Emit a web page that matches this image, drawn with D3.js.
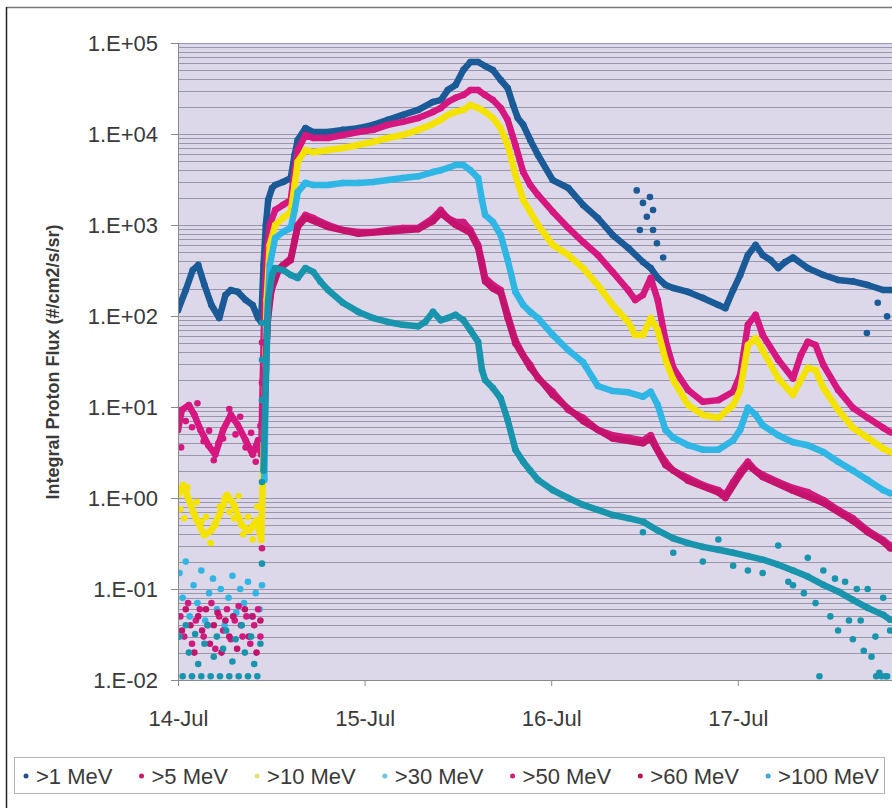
<!DOCTYPE html>
<html>
<head>
<meta charset="utf-8">
<script src="https://cdn.jsdelivr.net/npm/d3@7"></script>
<style>
  body { margin: 0; background: #fff; }
  svg { display: block; font-family: "Liberation Sans", Arial, Helvetica, sans-serif; }
</style>
</head>
<body>
<div id="chart"></div>
<script>
// Integral proton flux, July 2000. Times are hours after 14-Jul 00:00 UT.
const seriesNames = [">1 MeV", ">5 MeV", ">10 MeV", ">30 MeV", ">50 MeV", ">60 MeV", ">100 MeV"];
const seriesColors = ["#1a5a96", "#d6177f", "#f4e200", "#2fb6e4", "#d01a7e", "#c4136c", "#1994ad"];
const legendColors = ["#1f4f86", "#d0186e", "#e8e27a", "#6cc4e2", "#d41c7c", "#c0104c", "#3ca6d2"];
const dayTicks = ["2000-07-14", "2000-07-15", "2000-07-16", "2000-07-17"];
const yTicks = [1e-2, 1e-1, 1e0, 1e1, 1e2, 1e3, 1e4, 1e5];

const mev1 = [[0,116],[1.0,193],[1.9,320],[2.6,363],[3.4,219],[4.3,132],[5.3,95],[6.1,170],[6.8,193],[7.7,184],
  [8.7,150],[9.6,132],[10.3,95],[10.7,86],[11.0,363],[11.3,1000],[11.6,1880],[12.1,2550],[12.5,2750],[13.5,2970],
  [14.5,3280],[15.0,5880],[15.4,8600],[16.4,11600],[17.4,10500],[19.3,10500],[21.2,11100],[23.2,11600],[25.1,12600],
  [27.0,14300],[28.9,16200],[30.9,18400],[32.8,22500],[33.8,23600],[34.7,30400],[35.7,34500],[36.7,50500],[37.6,61800],
  [38.6,61800],[39.5,55800],[40.5,50500],[41.5,39200],[42.4,32000],[43.1,20800],[43.7,15000],[44.4,12600],[45.3,8600],
  [46.3,5880],[48.2,3120],[50.2,2550],[52.1,1660],[54.0,1190],[55.9,777],[57.9,560],[59.8,392],[60.8,336],[61.7,262],
  [62.7,219],[63.7,203],[65.6,184],[67.5,158],[69.5,132],[70.4,122],[71.4,193],[72.3,282],[73.3,468],[74.3,603],
  [75.2,468],[76.2,412],[77.2,336],[78.1,392],[79.1,440],[81.0,336],[83.0,282],[84.9,249],[86.8,240],[88.7,219],
  [90.7,193],[91.6,193]];
const mev1Dots = [[59.0,2400],[59.8,1750],[60.7,2030],[61.1,1460],[60.3,1230],[59.4,880],[61.1,880],[61.6,630],
  [62.4,440],[88.6,65],[91.2,99],[90.0,140]];

const mev5 = [[0,5.6],[0.5,9.3],[1.4,10.5],[2.1,8.2],[2.9,5.6],[3.9,3.8],[4.8,3.0],[5.8,5.6],[6.8,8.2],[7.7,6.3],
  [8.7,4.3],[9.6,3.0],[10.3,4.3],[10.7,3.0],[10.9,19.8],[11.1,116],[11.4,468],[11.8,1000],[12.5,1460],[13.5,1660],
  [14.5,1880],[15.0,4000],[15.4,6670],[16.4,9750],[17.4,9040],[19.3,9040],[21.2,9750],[23.2,10500],[25.1,11100],
  [27.0,12600],[28.9,13600],[30.9,15000],[32.8,17500],[33.8,19300],[34.7,22500],[35.7,25000],[36.7,26800],[37.6,30400],
  [38.6,30400],[39.5,26800],[40.5,23600],[41.5,19300],[42.4,14300],[43.4,7570],[44.4,3820],[45.3,2750],[46.3,2140],
  [48.2,1400],[50.2,927],[52.1,650],[54.0,468],[55.9,305],[57.9,193],[58.8,150],[59.8,170],[60.8,262],[61.7,150],
  [62.7,54],[63.7,27],[65.6,15.4],[67.5,11.4],[69.5,11.9],[71.4,14.7],[72.3,22.5],[73.3,80],[74.3,103],[75.2,62],
  [77.2,33],[79.1,20.6],[80.1,37],[81.0,52],[82.0,48],[83.0,29],[84.9,15.4],[86.8,9.8],[88.7,7.6],[90.7,5.9],[91.6,5.3]];
const mev5Dots = [[0.4,3.6],[1.0,7],[1.8,6],[2.5,11],[3.3,4.2],[4.0,5.5],[4.6,2.6],[5.2,4],[5.8,4.5],[6.6,9.5],
  [7.4,5],[8.0,7.8],[8.7,3.6],[9.4,5.2],[10.0,2.5],[10.6,6.2]];

const mev10 = [[0,1.08],[0.7,1.39],[1.4,0.95],[2.4,0.57],[3.4,0.39],[4.3,0.44],[5.3,0.65],[6.3,1.08],[7.2,0.84],
  [8.2,0.50],[9.2,0.44],[10.1,0.57],[10.7,0.345],[11.1,7.2],[11.4,150],[11.8,603],[12.5,1000],[13.5,1190],[14.5,1400],
  [15.0,2750],[15.4,4950],[16.4,6670],[17.4,6300],[19.3,6670],[21.2,7020],[23.2,7570],[25.1,8200],[27.0,9040],
  [28.9,9750],[30.9,11100],[32.8,12900],[33.8,14300],[34.7,16200],[35.7,17500],[36.7,18400],[37.6,20800],[38.6,19300],
  [39.5,17500],[40.5,15000],[41.5,11600],[42.4,7570],[43.4,3540],[44.4,1880],[45.3,1400],[46.3,1000],[48.2,603],
  [50.2,468],[52.1,336],[54.0,219],[55.9,132],[57.9,86],[58.8,62],[59.8,62],[60.8,95],[61.7,70],[62.7,33],[63.7,19.8],
  [65.6,10.5],[67.5,8.2],[69.5,7.6],[71.4,10.5],[72.3,15.4],[73.3,48],[74.3,57],[75.2,42],[77.2,20.6],[79.1,13.6],
  [80.1,19.8],[81.0,27],[82.0,25.5],[83.0,16.2],[84.9,9.3],[86.8,5.9],[88.7,4.6],[90.7,3.5],[91.6,3.2]];
const mev10Dots = [[0.3,0.75],[0.8,0.6],[1.2,1.3],[1.9,0.7],[2.4,0.9],[3.0,0.55],[3.6,0.62],[4.2,0.32],[4.8,0.5],
  [5.4,0.8],[6.0,1.0],[6.6,0.7],[7.2,0.6],[7.8,1.05],[8.4,0.4],[9.0,0.62],[9.6,0.35],[10.2,0.8],[10.7,0.6]];

const mev30 = [[11.1,1.58],[11.4,70],[11.8,363],[12.5,720],[13.5,838],[14.5,927],[15.0,1460],[15.4,2300],[16.4,2900],
  [17.4,2750],[19.3,2750],[21.2,2900],[23.2,2900],[25.1,2970],[27.0,3120],[28.9,3280],[30.9,3430],[32.8,3820],
  [33.8,4000],[34.7,4230],[35.7,4560],[36.7,4560],[37.6,4000],[38.6,3280],[39.1,1880],[39.5,1290],[40.5,1080],
  [41.5,777],[42.4,412],[43.4,184],[44.4,132],[45.3,111],[46.3,95],[48.2,62],[50.2,42],[52.1,31],[54.0,17],[55.9,15],
  [57.9,14.5],[59.8,13],[60.8,14.7],[61.7,10.5],[62.7,5.6],[63.7,4.6],[65.6,3.8],[67.5,3.4],[69.5,3.4],[71.4,4.3],
  [72.3,5.6],[73.3,9.8],[74.3,8.2],[75.2,6.3],[77.2,4.9],[79.1,4.1],[81.0,3.8],[83.0,3.2],[84.9,2.5],[86.8,2.0],
  [88.7,1.58],[90.7,1.22],[91.6,1.13]];
const mev30Dots = [[0.2,0.15],[0.6,0.08],[1.0,0.2],[1.5,0.05],[2.0,0.11],[2.5,0.07],[3.0,0.16],[3.5,0.045],[4.0,0.09],
  [4.5,0.13],[5.0,0.06],[5.5,0.1],[6.0,0.04],[6.5,0.08],[7.0,0.14],[7.5,0.055],[8.0,0.1],[8.5,0.07],[9.0,0.12],
  [9.5,0.05],[10.0,0.09],[10.5,0.06],[10.8,0.11]];

const mev50 = [[11.0,4.3],[11.3,33],[11.6,116],[12.1,219],[12.5,305],[13.5,363],[14.5,430],[15.0,684],[15.4,1000],
  [16.4,1290],[17.4,1190],[19.3,1000],[21.2,881],[23.2,838],[25.1,838],[27.0,881],[28.9,927],[30.9,927],[32.8,1190],
  [33.8,1460],[34.7,1190],[35.7,1080],[36.7,1080],[37.6,881],[38.6,603],[39.1,392],[39.5,262],[40.5,219],[41.5,193],
  [42.4,103],[43.4,54],[44.4,37],[45.3,29],[46.3,20.6],[48.2,14.7],[50.2,9.3],[52.1,7.6],[54.0,5.6],[55.9,4.9],
  [57.9,4.6],[59.8,4.3],[60.8,4.9],[61.7,3.4],[62.7,2.5],[63.7,2.0],[65.6,1.66],[67.5,1.39],[69.5,1.22],[70.4,1.08],
  [71.4,1.5],[72.3,1.95],[73.3,2.5],[74.3,2.0],[75.2,1.8],[77.2,1.5],[79.1,1.29],[81.0,1.16],[83.0,0.95],[84.9,0.74],
  [86.8,0.60],[88.7,0.44],[90.7,0.345],[91.6,0.30]];
const mev50Dots = [[0.3,0.05],[0.8,0.03],[1.3,0.07],[1.8,0.025],[2.3,0.045],[2.8,0.06],[3.3,0.03],[3.8,0.04],
  [4.3,0.07],[4.8,0.022],[5.3,0.05],[5.8,0.035],[6.3,0.06],[6.8,0.028],[7.3,0.045],[7.8,0.065],[8.3,0.03],[8.8,0.05],
  [9.3,0.025],[9.8,0.04],[10.3,0.06],[10.6,0.03],[10.8,51],[10.8,18.4],[10.8,6.6],[10.8,0.28]];

const mev60 = [[11.1,8],[11.5,80],[12.0,190],[13.0,330],[14.5,410],[15.4,950],[16.4,1200],[19.3,950],[23.2,800],
  [27.0,850],[30.9,900],[32.8,1100],[33.8,1350],[35.7,1000],[37.6,820],[38.6,560],[39.5,240],[40.5,200],[41.5,180],
  [42.4,95],[43.4,50],[45.3,27],[48.2,13.5],[52.1,7.0],[55.9,4.5],[59.8,4.0],[60.8,4.5],[62.7,2.3],[65.6,1.55],
  [69.5,1.15],[70.4,1.0],[72.3,1.8],[73.3,2.3],[75.2,1.7],[79.1,1.2],[83.0,0.88],[86.8,0.56],[88.7,0.42],[90.7,0.33],
  [91.6,0.28]];
const mev60Dots = [[0.5,0.035],[1.0,0.06],[1.6,0.04],[2.1,0.02],[2.6,0.05],[3.1,0.035],[3.6,0.06],[4.1,0.025],
  [4.6,0.04],[5.1,0.055],[5.6,0.02],[6.1,0.045],[6.6,0.03],[7.1,0.05],[7.6,0.022],[8.1,0.04],[8.6,0.06],[9.1,0.03],
  [9.6,0.05],[10.1,0.02],[10.6,0.045]];

const mev100 = [[11.0,2.0],[11.3,19.8],[11.6,150],[12.1,282],[12.5,336],[13.5,320],[14.5,282],[15.4,262],[16.4,336],
  [17.4,305],[18.3,240],[19.3,193],[21.2,140],[23.2,111],[25.1,95],[27.0,86],[28.9,80],[30.9,77],[31.8,86],[32.8,111],
  [33.8,90],[34.7,95],[35.7,103],[36.7,90],[37.6,70],[38.6,52],[39.1,25.5],[39.5,19.8],[40.5,16.2],[41.5,12.5],
  [42.4,7.2],[43.4,3.4],[44.4,2.5],[45.3,2.0],[46.3,1.58],[48.2,1.22],[50.2,1.0],[52.1,0.84],[54.0,0.74],[55.9,0.65],
  [57.9,0.60],[59.8,0.55],[61.7,0.44],[63.7,0.36],[65.6,0.32],[67.5,0.29],[69.5,0.27],[71.4,0.25],[73.3,0.23],
  [75.2,0.21],[77.2,0.185],[79.1,0.16],[81.0,0.137],[83.0,0.111],[84.9,0.094],[86.8,0.076],[88.7,0.062],[90.7,0.052],
  [91.6,0.046]];
const mev100Dots = [[0.2,0.03],[0.6,0.011],[1.0,0.04],[1.4,0.02],[1.8,0.011],[2.2,0.032],[2.6,0.015],[3.0,0.011],
  [3.4,0.025],[3.8,0.04],[4.2,0.011],[4.6,0.018],[5.0,0.03],[5.4,0.011],[5.8,0.022],[6.2,0.035],[6.6,0.011],
  [7.0,0.016],[7.4,0.028],[7.8,0.011],[8.2,0.04],[8.6,0.02],[9.0,0.011],[9.4,0.03],[9.8,0.015],[10.2,0.011],
  [10.6,0.025],[10.8,84],[10.8,33],[10.8,11.9],[10.8,1.5],[10.8,0.19],
  [59.8,0.42],[63.7,0.25],[67.5,0.2],[69.5,0.35],[71.4,0.18],[73.3,0.16],[75.2,0.15],[77.2,0.3],[78.5,0.12],
  [79.1,0.11],[80.5,0.09],[81.0,0.22],[82.0,0.07],[82.5,0.011],[83.0,0.16],[83.9,0.05],[84.5,0.13],[84.9,0.035],
  [85.8,0.12],[86.3,0.045],[86.8,0.028],[87.3,0.1],[87.8,0.045],[88.2,0.021],[88.7,0.1],[89.2,0.018],[89.7,0.03],
  [89.8,0.011],[90.2,0.012],[90.5,0.011],[90.7,0.08],[91.0,0.011],[91.2,0.011],[91.6,0.035]];

const bands = [mev1, mev5, mev10, mev30, mev50, mev60, mev100];
const dots = [mev1Dots, mev5Dots, mev10Dots, mev30Dots, mev50Dots, mev60Dots, mev100Dots];

const W = 892, H = 808;
const plotLeft = 178, plotTop = 43, plotBottom = 680;
const t0 = Date.UTC(2000, 6, 14);
const toDate = h => new Date(t0 + h * 3600e3);

const svg = d3.select("#chart").append("svg").attr("width", W).attr("height", H);

const x = d3.scaleUtc().domain([new Date(t0), toDate(96)]).range([plotLeft, plotLeft + 4 * 186.6]);
const y = d3.scaleLog().domain([1e-2, 1e5]).range([plotBottom, plotTop]);

// outer frame
svg.append("line").attr("x1", 6).attr("x2", W).attr("y1", 7.5).attr("y2", 7.5).attr("stroke", "#777").attr("stroke-width", 1.5);
svg.append("line").attr("x1", 6.5).attr("x2", 6.5).attr("y1", 7).attr("y2", H).attr("stroke", "#222").attr("stroke-width", 1.5);

// plot area
svg.append("rect").attr("x", plotLeft).attr("y", plotTop).attr("width", W - plotLeft).attr("height", plotBottom - plotTop).attr("fill", "#dcd8ea");

const gridVals = [];
for (let k = -2; k < 5; k++) for (let m = 1; m < 10; m++) gridVals.push(m * Math.pow(10, k));
gridVals.push(1e5);
svg.append("g").selectAll("line").data(gridVals).join("line")
  .attr("x1", plotLeft).attr("x2", W)
  .attr("y1", d => Math.round(y(d)) + 0.5).attr("y2", d => Math.round(y(d)) + 0.5)
  .attr("stroke", "#9896aa").attr("stroke-width", 1);

svg.append("clipPath").attr("id", "clip").append("rect")
  .attr("x", plotLeft).attr("y", plotTop - 4).attr("width", W - plotLeft).attr("height", plotBottom - plotTop + 4);

const plot = svg.append("g").attr("clip-path", "url(#clip)");
const line = d3.line().x(d => x(toDate(d[0]))).y(d => y(d[1]));

bands.forEach((data, i) => {
  const g = plot.append("g");
  g.append("path").datum(data).attr("d", line)
    .attr("fill", "none").attr("stroke", seriesColors[i])
    .attr("stroke-width", 6.5).attr("stroke-linejoin", "round").attr("stroke-linecap", "round");
  g.selectAll("circle").data(data.concat(dots[i])).join("circle")
    .attr("cx", d => x(toDate(d[0]))).attr("cy", d => y(d[1])).attr("r", 3.3)
    .attr("fill", seriesColors[i]);
});

// axes
const fmtExp = v => {
  const e = Math.round(Math.log10(v));
  return "1.E" + (e < 0 ? "-" : "+") + String(Math.abs(e)).padStart(2, "0");
};
const yAxis = svg.append("g").attr("transform", `translate(${plotLeft},0)`)
  .call(d3.axisLeft(y).tickValues(yTicks).tickFormat(fmtExp).tickSize(7).tickPadding(13));
const xAxis = svg.append("g").attr("transform", `translate(0,${plotBottom})`)
  .call(d3.axisBottom(x).tickValues(dayTicks.map(s => new Date(s + "T00:00:00Z")))
    .tickFormat(d3.utcFormat("%d-%b")).tickSize(6).tickPadding(24));
[yAxis, xAxis].forEach(a => {
  a.select(".domain").attr("stroke", "#8a8a8a");
  a.selectAll(".tick line").attr("stroke", "#8a8a8a");
  a.selectAll("text").attr("font-size", 22).attr("fill", "#3a3a3a")
    .attr("font-family", "'Liberation Sans', Arial, sans-serif");
});

svg.append("text")
  .attr("transform", "translate(59,362) rotate(-90)")
  .attr("text-anchor", "middle").attr("font-size", 18).attr("font-weight", "bold").attr("fill", "#3a3a3a")
  .text("Integral Proton Flux (#/cm2/s/sr)");

// legend
const legend = svg.append("g");
legend.append("rect").attr("x", 14.5).attr("y", 757.5).attr("width", 870).attr("height", 36)
  .attr("fill", "#fff").attr("stroke", "#b4b4b4");
const items = legend.selectAll("g.item").data(seriesNames).join("g").attr("class", "item");
items.append("circle").attr("r", 2.5).attr("cy", 776).attr("fill", (d, i) => legendColors[i]);
items.append("text").attr("y", 784).attr("font-size", 22).attr("fill", "#3a3a3a").text(d => d);
const widths = items.select("text").nodes().map(n => n.getComputedTextLength() + 11);
const gap = (878 - 24 - d3.sum(widths)) / (seriesNames.length - 1);
let cx = 26;
items.each(function(d, i) {
  d3.select(this).select("circle").attr("cx", cx);
  d3.select(this).select("text").attr("x", cx + 10);
  cx += widths[i] + gap;
});
</script>
</body>
</html>
